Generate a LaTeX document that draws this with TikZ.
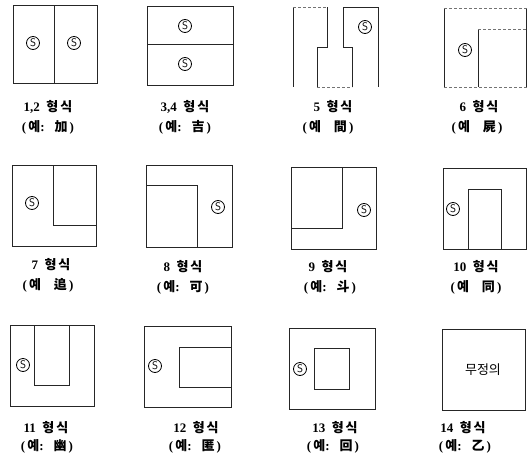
\documentclass[tikz,border=0pt]{standalone}
\usepackage{fontspec}
\setmainfont{Liberation Serif}
\newfontfamily\kr{Noto Sans CJK KR}
\newcommand\hs{{\kr 형\hspace{2pt}식}}
\begin{document}
\begin{tikzpicture}[x=1pt,y=-1pt,
  frame/.style={draw=black!85,line width=0.9pt},
  faint/.style={draw=black!55,line width=0.6pt,dashed,dash pattern=on 3pt off 2pt},
  scirc/.style={circle,draw=black,line width=0.8pt,inner sep=0pt,minimum size=13pt,font=\fontsize{11}{11}\selectfont\sffamily},
  lab/.style={font=\fontsize{13}{15}\selectfont\bfseries,inner sep=0pt,anchor=center}]
\useasboundingbox (0,0) rectangle (528,461);
% ---- cell 1 (1,2)
\draw[frame] (13,5) rectangle (97,83);
\draw[frame] (54,5) -- (54,83);
\node[scirc] (s1a) at (33,43) {S};
\node[scirc] (s1b) at (74,43) {S};
\node[lab] (l1) at (48,107) {1,2\ \ \hs};
\node[lab] (e1) at (48,127) {(\,{\kr 예}:\ \ \ {\kr 加}\,)};
% ---- cell 2 (3,4)
\draw[frame] (147,6) rectangle (233,85);
\draw[frame] (147,44) -- (233,44);
\node[scirc] (s2a) at (185,26) {S};
\node[scirc] (s2b) at (185,64) {S};
\node[lab] (l2) at (185,107) {3,4\ \ \hs};
\node[lab] (e2) at (185,127) {(\,{\kr 예}:\ \ \ {\kr 吉}\,)};
% ---- cell 3 (5)
\draw[frame] (293,7) -- (293,87);
\draw[frame] (378,7) -- (378,87);
\draw[faint] (293,7) -- (327,7);
\draw[frame] (327,7) -- (327,47) -- (317,47) -- (317,87);
\draw[frame] (352,87) -- (352,47) -- (343,47) -- (343,7) -- (378,7);
\draw[faint] (317,87) -- (352,87);
\node[scirc] (s3) at (365,27) {S};
\node[lab] (l3) at (333,107) {5\ \ \hs};
\node[lab] (e3) at (328,127) {(\,{\kr 예}\ \ \ \ {\kr 間}\,)};
% ---- cell 4 (6)
\draw[frame] (444,8) -- (444,87);
\draw[frame] (526.5,8) -- (526.5,87);
\draw[frame] (478,29) -- (478,87);
\draw[faint] (444,8) -- (526.5,8);
\draw[faint] (478,29) -- (526.5,29);
\draw[faint] (444,87) -- (526.5,87);
\node[scirc] (s4) at (465,50) {S};
\node[lab] (l4) at (479,107) {6\ \ \hs};
\node[lab] (e4) at (477,127) {(\,{\kr 예}\ \ \ \ {\kr 屍}\,)};
% ---- cell 5 (7)
\draw[frame] (12,165) rectangle (96,246);
\draw[frame] (53,165) -- (53,225) -- (96,225);
\node[scirc] (s5) at (32,203) {S};
\node[lab] (l5) at (51,265) {7\ \ \hs};
\node[lab] (e5) at (48,285) {(\,{\kr 예}\ \ \ \ {\kr 追}\,)};
% ---- cell 6 (8)
\draw[frame] (146,165) rectangle (232,247);
\draw[frame] (146,185) -- (197,185) -- (197,247);
\node[scirc] (s6) at (218,207) {S};
\node[lab] (l6) at (183,267) {8\ \ \hs};
\node[lab] (e6) at (183,287) {(\,{\kr 예}:\ \ \ {\kr 可}\,)};
% ---- cell 7 (9)
\draw[frame] (291,167) rectangle (376,249);
\draw[frame] (291,228) -- (342,228) -- (342,167);
\node[scirc] (s7) at (364,210) {S};
\node[lab] (l7) at (328,267) {9\ \ \hs};
\node[lab] (e7) at (330,287) {(\,{\kr 예}:\ \ \ {\kr 斗}\,)};
% ---- cell 8 (10)
\draw[frame] (443,168) rectangle (526.5,249);
\draw[frame] (468,249) -- (468,189) -- (501,189) -- (501,249);
\node[scirc] (s8) at (453,209) {S};
\node[lab] (l8) at (476,267) {10\ \ \hs};
\node[lab] (e8) at (476,287) {(\,{\kr 예}\ \ \ \ {\kr 同}\,)};
% ---- cell 9 (11)
\draw[frame] (10,325) rectangle (94,406);
\draw[frame] (34,325) -- (34,385) -- (69,385) -- (69,325);
\node[scirc] (s9) at (23,365) {S};
\node[lab] (l9) at (46,428) {11\ \ \hs};
\node[lab] (e9) at (47,446) {(\,{\kr 예}:\ \ \ {\kr 幽}\,)};
% ---- cell 10 (12)
\draw[frame] (144,326) rectangle (231,407);
\draw[frame] (231,347) -- (179,347) -- (179,387) -- (231,387);
\node[scirc] (s10) at (155,366) {S};
\node[lab] (l10) at (196,428) {12\ \ \hs};
\node[lab] (e10) at (195,446) {(\,{\kr 예}:\ \ \ {\kr 匿}\,)};
% ---- cell 11 (13)
\draw[frame] (289,328) rectangle (375,409);
\draw[frame] (314,348) rectangle (349,389);
\node[scirc] (s11) at (300,369) {S};
\node[lab] (l11) at (335,428) {13\ \ \hs};
\node[lab] (e11) at (333,446) {(\,{\kr 예}:\ \ \ {\kr 回}\,)};
% ---- cell 12 (14)
\draw[frame] (442,329) rectangle (525,410);
\node[font=\fontsize{13}{15}\selectfont\kr] (t12) at (483,370) {무정의};
\node[lab] (l12) at (463,428) {14\ \ \hs};
\node[lab] (e12) at (465,446) {(\,{\kr 예}:\ \ \ {\kr 乙}\,)};
\end{tikzpicture}
\end{document}
